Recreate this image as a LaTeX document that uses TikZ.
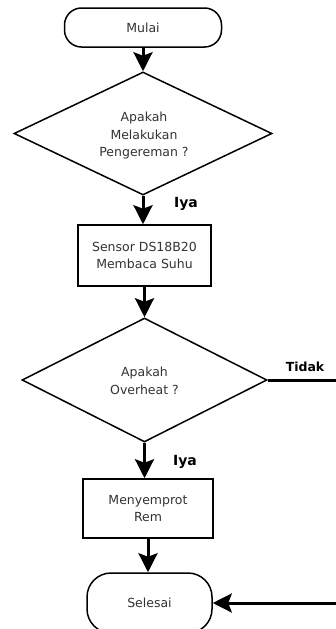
\documentclass[tikz,border=0pt]{standalone}
\usepackage{fontspec}
\setmainfont{DejaVu Sans}
\usetikzlibrary{shapes.geometric,arrows.meta}
\begin{document}
\begin{tikzpicture}[x=1pt,y=-1pt,
  shapeline/.style={draw=black,line width=1.5pt,fill=white},
  term/.style={shapeline,rectangle,rounded corners=17pt,inner sep=0pt},
  proc/.style={shapeline,rectangle,inner sep=0pt},
  decide/.style={shapeline,diamond,inner sep=0pt},
  txt/.style={align=center,font=\fontsize{12.5}{17.5}\selectfont,text=black!80},
  lbl/.style={font=\fontsize{12.5}{14}\selectfont\bfseries},
  conn/.style={line width=3pt,-{Stealth[width=19pt,length=19pt,inset=3.5pt]}},
]
\useasboundingbox (0,0) rectangle (335,629);
\node[term,minimum width=157pt,minimum height=39pt] (start) at (143,27.5) {};
\node[txt] (starttxt) at (start) {Mulai};
\node[decide,minimum width=258pt,minimum height=123pt] (d1) at (143,133.5) {};
\node[txt] (d1txt) at (144,136) {Apakah\\Melakukan\\Pengereman ?};
\node[proc,minimum width=133pt,minimum height=61pt] (r1) at (144.5,255.5) {};
\node[txt] (r1txt) at (r1) {Sensor DS18B20\\Membaca Suhu};
\node[decide,minimum width=245pt,minimum height=124pt] (d2) at (144.5,380) {};
\node[txt] (d2txt) at (144.5,381) {Apakah\\Overheat ?};
\node[proc,minimum width=130pt,minimum height=59pt] (r2) at (148,508.5) {};
\node[txt] (r2txt) at (r2) {Menyemprot\\Rem};
\node[term,rounded corners=24pt,minimum width=125pt,minimum height=60pt] (stop) at (149.5,603) {};
\node[txt] (stoptxt) at (stop) {Selesai};

\node[lbl,font=\fontsize{14}{16}\selectfont\bfseries] (iya1) at (186,204) {Iya};
\node[lbl,font=\fontsize{14}{16}\selectfont\bfseries] (iya2) at (185,462) {Iya};
\node[lbl] (tidak) at (305,367) {Tidak};

\coordinate (c1) at (360,380);
\coordinate (c2) at (360,603);

\draw[conn] (start.south) -- (start.south |- d1.north);
\draw[conn] (d1.south) -- (d1.south |- r1.north);
\draw[conn] (r1.south) -- (r1.south |- d2.north);
\draw[conn] (d2.south) -- (d2.south |- r2.north);
\draw[conn] (r2.south) -- (r2.south |- stop.north);
\draw[conn] (d2.east) -- (c1) -- (c2) -- (stop.east);
\end{tikzpicture}
\end{document}
